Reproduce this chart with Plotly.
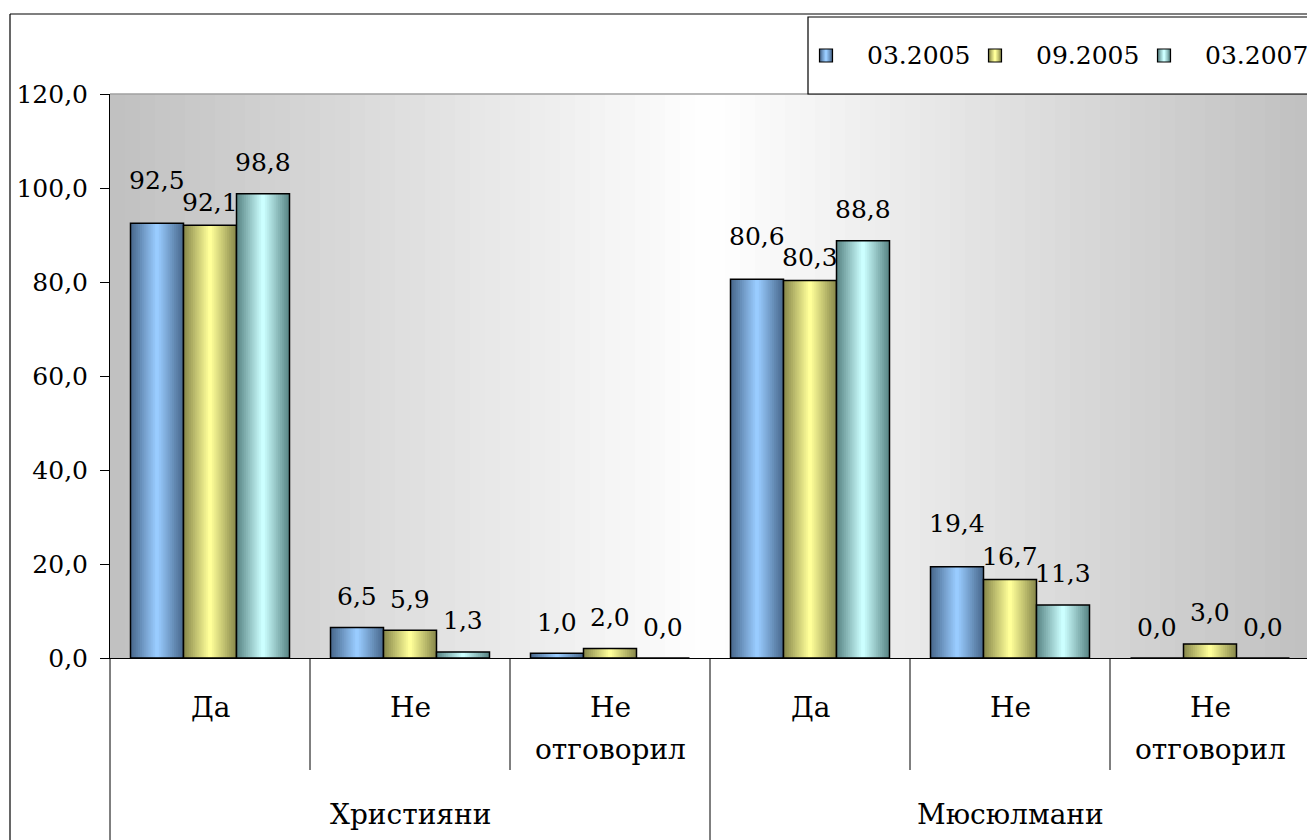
import plotly.graph_objects as go

# data
groups = ["Християни", "Мюсюлмани"]
answers = ["Да", "Не", "Не отговорил"]
series = ["03.2005", "09.2005", "03.2007"]
mar_2005 = [92.5, 6.5, 1.0, 80.6, 19.4, 0.0]
sep_2005 = [92.1, 5.9, 2.0, 80.3, 16.7, 3.0]
mar_2007 = [98.8, 1.3, 0.0, 88.8, 11.3, 0.0]
y_ticks = [0, 20, 40, 60, 80, 100, 120]

values = [mar_2005, sep_2005, mar_2007]
categories = [a for g in groups for a in answers]
xs = list(range(len(categories)))

edge_cols = [(74, 106, 143), (138, 138, 76), (91, 135, 135)]
mid_cols = [(153, 204, 255), (255, 255, 153), (204, 255, 255)]

FONT = "DejaVu Serif"
FS = 25      # numbers
FS_CAT = 28  # cyrillic category labels
W, H = 1307, 840
L, T, B = 110, 94, 182
plot_w, plot_h = W - L, H - T - B
x_lo, x_hi = -0.5, len(categories) - 0.5 - 3 / 200
px_per_unit = plot_h / 120


def py(p):  # pixel y -> paper y
    return (H - B - p) / plot_h


def px_(p):  # pixel x -> paper x
    return (p - L) / plot_w


def xpaper(v):  # data x -> paper x
    return (v - x_lo) / (x_hi - x_lo)


def mix(a, b, t):
    return "rgb(%d,%d,%d)" % tuple(round(a[i] + (b[i] - a[i]) * t) for i in range(3))


# label offsets: stagger wide labels of neighbouring bars with similar heights
shifts = [[31] * len(xs) for _ in series]
for xi in xs:
    for j in range(len(series) - 1):
        a, b = values[j][xi], values[j + 1][xi]
        if a >= 10 and b >= 10 and abs(a - b) * px_per_unit < 20:
            hi, lo = (j, j + 1) if a >= b else (j + 1, j)
            shifts[hi][xi] += 12
            shifts[lo][xi] -= 8

fig = go.Figure()
bw = 0.265
n_layers = 14
for j, (name, vals) in enumerate(zip(series, values)):
    c = (j - 1) * bw
    # fake horizontal gradient: nested bars, dark edge -> light center
    for k in range(n_layers):
        w = bw * (1 - k / n_layers)
        fig.add_trace(go.Bar(
            x=xs, y=vals, width=w, offset=c - w / 2,
            marker=dict(color=mix(edge_cols[j], mid_cols[j], k / (n_layers - 1)), line_width=0),
            showlegend=False, hoverinfo="skip"))
    fig.add_trace(go.Bar(
        x=xs, y=vals, width=bw, offset=c - bw / 2, name=name,
        marker=dict(color="rgba(0,0,0,0)", line=dict(color="black", width=1.5)),
        showlegend=False))
    for xi, v in zip(xs, vals):
        fig.add_annotation(x=xi + c, y=v, xref="x", yref="y", text=f"{v:.1f}".replace(".", ","),
                           showarrow=False, yanchor="middle", yshift=shifts[j][xi],
                           font=dict(family=FONT, size=FS, color="black"))

shapes = []
# plot area gradient grey -> white -> grey
n_strips = 80
for s in range(n_strips):
    t = (s + 0.5) / n_strips
    g = round(192 + 63 * (1 - abs(t - 0.5) * 2))
    shapes.append(dict(type="rect", xref="paper", yref="paper",
                       x0=xpaper(x_lo + len(categories) * s / n_strips),
                       x1=xpaper(x_lo + len(categories) * (s + 1) / n_strips) + 0.001,
                       y0=0, y1=1, fillcolor=f"rgb({g},{g},{g})", line_width=0, layer="below"))
shapes.append(dict(type="line", xref="paper", yref="paper", x0=0, x1=1.01, y0=1, y1=1,
                   line=dict(color="#a0a0a0", width=1.5)))
# category dividers
for b in range(len(categories) + 1):
    bx = b - 0.5
    long_line = b % len(answers) == 0
    shapes.append(dict(type="line", xref="paper", yref="paper", x0=xpaper(bx), x1=xpaper(bx),
                       y0=0, y1=py(845) if long_line else py(770),
                       line=dict(color="black", width=1)))
# outer frame
shapes.append(dict(type="line", xref="paper", yref="paper", x0=px_(10), x1=px_(10),
                   y0=py(14), y1=py(845), line=dict(color="black", width=1.2)))
shapes.append(dict(type="line", xref="paper", yref="paper", x0=px_(10), x1=px_(1320),
                   y0=py(14), y1=py(14), line=dict(color="black", width=1.2)))
# legend box
shapes.append(dict(type="rect", xref="paper", yref="paper", x0=px_(808), x1=px_(1330),
                   y0=py(94), y1=py(17), fillcolor="white", line=dict(color="black", width=1.2)))
# legend swatches + labels
for j, name in enumerate(series):
    cx = 826 + 169 * j
    for k in range(5):
        half = 6.5 * (1 - k / 5)
        shapes.append(dict(type="rect", xref="paper", yref="paper",
                           x0=px_(cx - half), x1=px_(cx + half), y0=py(62), y1=py(49),
                           fillcolor=mix(edge_cols[j], mid_cols[j], k / 4), line_width=0))
    shapes.append(dict(type="rect", xref="paper", yref="paper",
                       x0=px_(cx - 6.5), x1=px_(cx + 6.5), y0=py(62), y1=py(49),
                       line=dict(color="black", width=1.2)))
    fig.add_annotation(x=px_(cx + 39), y=py(55), xref="paper", yref="paper", text=name,
                       showarrow=False, xanchor="left", yanchor="middle",
                       font=dict(family=FONT, size=FS, color="black"))

# axis labels (two levels)
for i, cat in enumerate(categories):
    for k, line in enumerate(cat.split(" ")):
        fig.add_annotation(x=i, y=py(707 + 42 * k), xref="x", yref="paper", text=line,
                           showarrow=False, yanchor="middle",
                           font=dict(family=FONT, size=FS_CAT, color="black"))
for gi, g in enumerate(groups):
    fig.add_annotation(x=gi * len(answers) + 1, y=py(814), xref="x", yref="paper", text=g,
                       showarrow=False, yanchor="middle",
                       font=dict(family=FONT, size=FS_CAT, color="black"))

fig.update_layout(
    width=W, height=H,
    margin=dict(l=L, r=0, t=T, b=B, pad=0),
    barmode="overlay",
    separators=", ",
    paper_bgcolor="white", plot_bgcolor="white",
    font=dict(family=FONT, size=FS, color="black"),
    shapes=shapes,
    showlegend=False,
    xaxis=dict(range=[x_lo, x_hi], showticklabels=False, showgrid=False, zeroline=False,
               showline=True, linecolor="black", linewidth=1, ticks=""),
    yaxis=dict(range=[0, 120], tickvals=y_ticks, tickformat=".1f", ticks="outside",
               ticklen=9, tickcolor="black", showline=True, linecolor="black", linewidth=1,
               showgrid=False, zeroline=False, ticklabelstandoff=7,
               tickfont=dict(family=FONT, size=FS, color="black")),
)

fig.write_html("out.html", config={"displayModeBar": False},
               post_script="document.body.style.margin='0';document.body.style.overflow='hidden';")
